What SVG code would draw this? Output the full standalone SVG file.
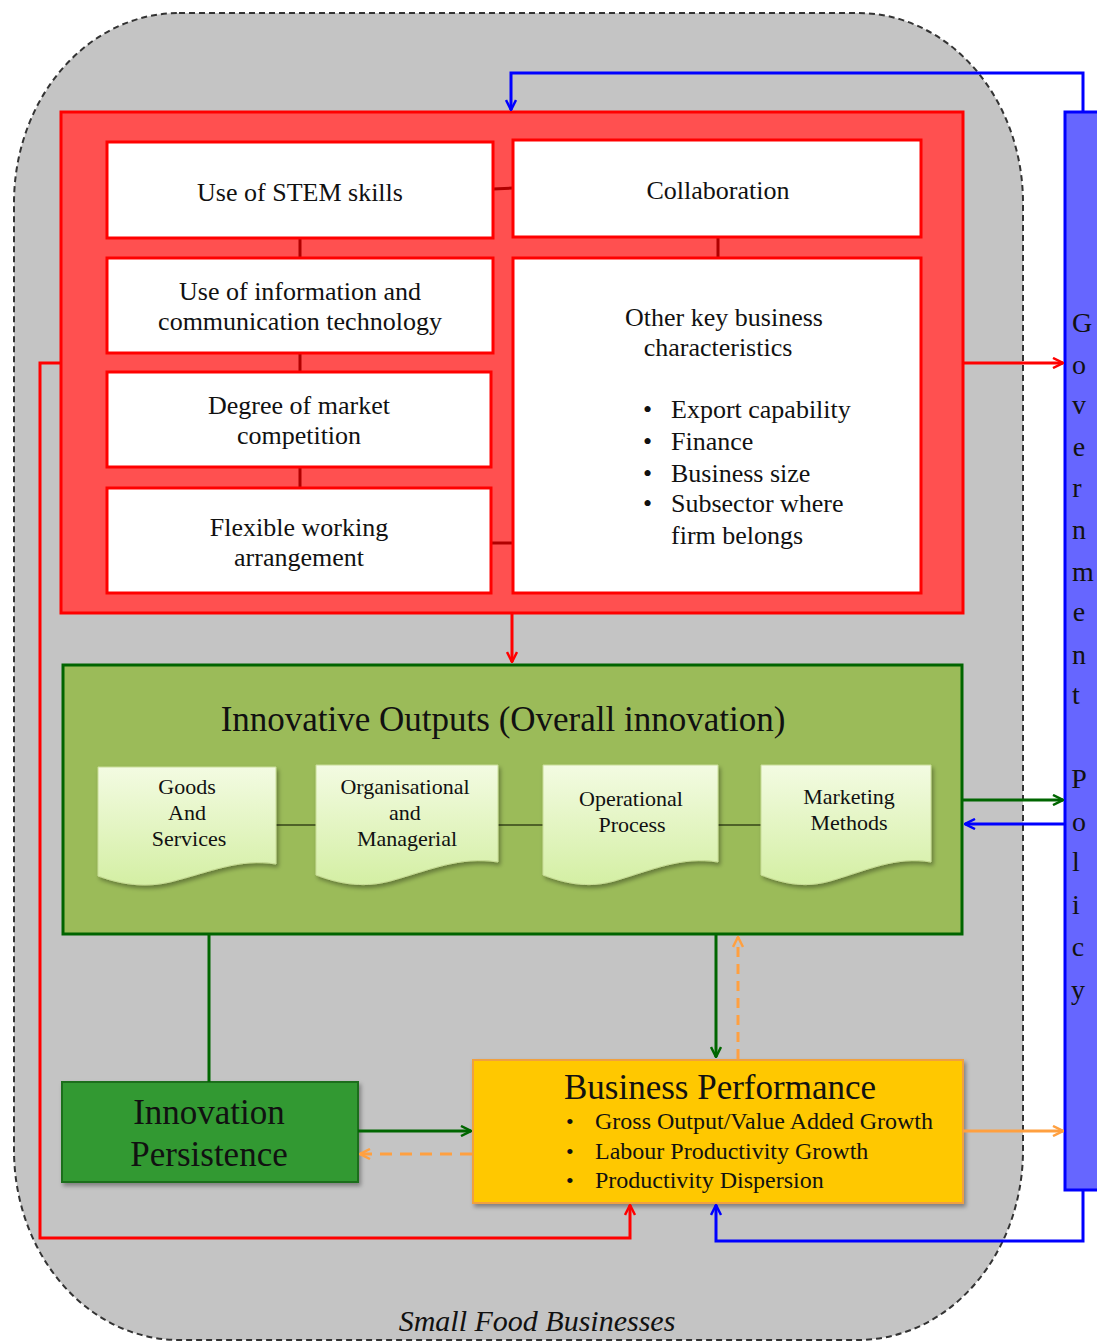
<svg xmlns="http://www.w3.org/2000/svg" width="1097" height="1343" viewBox="0 0 1097 1343" font-family="'Liberation Serif', 'Times New Roman', serif">
<style>
text{font-family:"Liberation Serif","Times New Roman",serif;fill:#111}
.wb{fill:#fff;stroke:#ff0000;stroke-width:3}
.t22{font-size:26px;text-anchor:middle}
.t23{font-size:26px}
.doc{fill:url(#docg);stroke:#c8dc98;stroke-width:1;filter:url(#sh)}
.dt{font-size:22px;text-anchor:middle}
.gv{font-size:28px;text-anchor:middle}
.bp{font-size:24px}
</style>
<defs>
<linearGradient id="docg" x1="0" y1="0" x2="0" y2="1">
<stop offset="0" stop-color="#f3fbe2"/>
<stop offset="1" stop-color="#d4efa4"/>
</linearGradient>
<filter id="sh" x="-10%" y="-10%" width="130%" height="130%">
<feDropShadow dx="2" dy="3" stdDeviation="2" flood-color="#000" flood-opacity="0.35"/>
</filter>
<marker id="ar" viewBox="0 0 12 12" refX="11" refY="6" markerWidth="12" markerHeight="12" markerUnits="userSpaceOnUse" orient="auto"><polyline points="1,1 11,6 1,11" fill="none" stroke="#ff0000" stroke-width="2.5"/></marker>
<marker id="ab" viewBox="0 0 12 12" refX="11" refY="6" markerWidth="12" markerHeight="12" markerUnits="userSpaceOnUse" orient="auto"><polyline points="1,1 11,6 1,11" fill="none" stroke="#0000ff" stroke-width="2.5"/></marker>
<marker id="ag" viewBox="0 0 12 12" refX="11" refY="6" markerWidth="12" markerHeight="12" markerUnits="userSpaceOnUse" orient="auto"><polyline points="1,1 11,6 1,11" fill="none" stroke="#006600" stroke-width="2.5"/></marker>
<marker id="ao" viewBox="0 0 12 12" refX="11" refY="6" markerWidth="12" markerHeight="12" markerUnits="userSpaceOnUse" orient="auto"><polyline points="1,1 11,6 1,11" fill="none" stroke="#ffa040" stroke-width="2.5"/></marker>
</defs>
<rect width="1097" height="1343" fill="#fff"/>
<g id="container">
<rect x="14" y="13" width="1009" height="1327" rx="165" ry="190" fill="#c4c4c4" stroke="#333" stroke-width="2" stroke-dasharray="6,4"/>
<text x="537" y="1331" font-size="30" font-style="italic" text-anchor="middle">Small Food Businesses</text>
</g>
<g id="gov-policy">
<rect x="1065" y="112" width="40" height="1078" fill="#6666ff" stroke="#0000ff" stroke-width="3"/>
<text class="gv" x="1082" y="332">G</text>
<text class="gv" x="1079" y="374">o</text>
<text class="gv" x="1079" y="414">v</text>
<text class="gv" x="1079" y="456">e</text>
<text class="gv" x="1077" y="497">r</text>
<text class="gv" x="1079" y="539">n</text>
<text class="gv" x="1083" y="581">m</text>
<text class="gv" x="1079" y="621">e</text>
<text class="gv" x="1079" y="664">n</text>
<text class="gv" x="1076" y="704">t</text>
<text class="gv" x="1079" y="788">P</text>
<text class="gv" x="1079" y="831">o</text>
<text class="gv" x="1076" y="871">l</text>
<text class="gv" x="1076" y="914">i</text>
<text class="gv" x="1078" y="956">c</text>
<text class="gv" x="1078" y="999">y</text>
</g>
<g id="determinants">
<rect x="61" y="112" width="902" height="501" fill="#ff5050" stroke="#ff0000" stroke-width="3"/>
<g stroke="#b00000" stroke-width="3">
<line x1="493" y1="189" x2="513" y2="188"/>
<line x1="300" y1="238" x2="300" y2="258"/>
<line x1="300" y1="353" x2="300" y2="372"/>
<line x1="300" y1="467" x2="300" y2="488"/>
<line x1="718" y1="237" x2="718" y2="258"/>
<line x1="491" y1="543" x2="513" y2="543"/>
</g>
</g>
<g id="stem">
<rect class="wb" x="107" y="142" width="386" height="96"/>
<text class="t22" x="300" y="201">Use of STEM skills</text>
</g>
<g id="collab">
<rect class="wb" x="513" y="140" width="408" height="97"/>
<text class="t22" x="718" y="199">Collaboration</text>
</g>
<g id="ict">
<rect class="wb" x="107" y="258" width="386" height="95"/>
<text class="t22" x="300" y="300">Use of information and</text>
<text class="t22" x="300" y="330">communication technology</text>
</g>
<g id="competition">
<rect class="wb" x="107" y="372" width="384" height="95"/>
<text class="t22" x="299" y="414">Degree of market</text>
<text class="t22" x="299" y="444">competition</text>
</g>
<g id="flexible">
<rect class="wb" x="107" y="488" width="384" height="105"/>
<text class="t22" x="299" y="536">Flexible working</text>
<text class="t22" x="299" y="566">arrangement</text>
</g>
<g id="other">
<rect class="wb" x="513" y="258" width="408" height="335"/>
<text class="t22" x="724" y="326">Other key business</text>
<text class="t22" x="718" y="356">characteristics</text>
<g class="t23">
<text x="643" y="418">•</text><text x="671" y="418">Export capability</text>
<text x="643" y="450">•</text><text x="671" y="450">Finance</text>
<text x="643" y="482">•</text><text x="671" y="482">Business size</text>
<text x="643" y="512">•</text><text x="671" y="512">Subsector where</text>
<text x="671" y="544">firm belongs</text>
</g>
</g>
<g id="innovative-outputs">
<rect x="63" y="665" width="899" height="269" fill="#9bbb59" stroke="#006400" stroke-width="3"/>
<text x="503" y="731" font-size="35" text-anchor="middle">Innovative Outputs (Overall innovation)</text>
<g stroke="#4f6228" stroke-width="2">
<line x1="276" y1="825" x2="316" y2="825"/>
<line x1="498" y1="825" x2="543" y2="825"/>
<line x1="718" y1="825" x2="761" y2="825"/>
</g>
</g>
<g id="goods">
<path class="doc" d="M98,767 H276 V864 C240,858 210,872 170,882 C140,889 115,882 98,876 Z"/>
<text class="dt" x="187" y="794">Goods</text>
<text class="dt" x="187" y="820">And</text>
<text class="dt" x="189" y="846">Services</text>
</g>
<g id="organisational">
<path class="doc" d="M316,765 H498 V862 C460,856 430,870 390,881 C360,889 335,882 316,875 Z"/>
<text class="dt" x="405" y="794">Organisational</text>
<text class="dt" x="405" y="820">and</text>
<text class="dt" x="407" y="846">Managerial</text>
</g>
<g id="operational">
<path class="doc" d="M543,765 H718 V862 C682,856 652,870 614,881 C586,889 562,882 543,875 Z"/>
<text class="dt" x="631" y="806">Operational</text>
<text class="dt" x="632" y="832">Process</text>
</g>
<g id="marketing">
<path class="doc" d="M761,765 H931 V862 C896,856 868,870 830,881 C802,889 780,882 761,875 Z"/>
<text class="dt" x="849" y="804">Marketing</text>
<text class="dt" x="849" y="830">Methods</text>
</g>
<g id="persistence">
<rect x="62" y="1082" width="296" height="100" fill="#339933" stroke="#1a6e1a" stroke-width="2" filter="url(#sh)"/>
<text x="209" y="1124" font-size="35" text-anchor="middle">Innovation</text>
<text x="209" y="1166" font-size="35" text-anchor="middle">Persistence</text>
</g>
<g id="performance">
<rect x="473" y="1060" width="490" height="143" fill="#ffc800" stroke="#f0a040" stroke-width="2" filter="url(#sh)"/>
<text x="720" y="1099" font-size="35" text-anchor="middle">Business Performance</text>
<text x="566" y="1129" font-size="22">•</text><text class="bp" x="595" y="1129">Gross Output/Value Added Growth</text>
<text x="566" y="1159" font-size="22">•</text><text class="bp" x="595" y="1159">Labour Productivity Growth</text>
<text x="566" y="1188" font-size="22">•</text><text class="bp" x="595" y="1188">Productivity Dispersion</text>
</g>
<g id="connectors" fill="none" stroke-width="3">
<polyline points="1083,112 1083,73 511,73 511,110" stroke="#0000ff" marker-end="url(#ab)"/>
<line x1="963" y1="363" x2="1063" y2="363" stroke="#ff0000" marker-end="url(#ar)"/>
<polyline points="61,363 40,363 40,1238 630,1238 630,1205" stroke="#ff0000" marker-end="url(#ar)"/>
<line x1="512" y1="613" x2="512" y2="662" stroke="#ff0000" marker-end="url(#ar)"/>
<line x1="963" y1="800" x2="1063" y2="800" stroke="#006600" marker-end="url(#ag)"/>
<line x1="1065" y1="824" x2="965" y2="824" stroke="#0000ff" marker-end="url(#ab)"/>
<line x1="209" y1="934" x2="209" y2="1082" stroke="#006600"/>
<line x1="716" y1="934" x2="716" y2="1057" stroke="#006600" marker-end="url(#ag)"/>
<line x1="738" y1="1059" x2="738" y2="937" stroke="#ffa040" stroke-dasharray="10,7" marker-end="url(#ao)"/>
<line x1="358" y1="1131" x2="471" y2="1131" stroke="#006600" marker-end="url(#ag)"/>
<line x1="472" y1="1154" x2="360" y2="1154" stroke="#ffa040" stroke-dasharray="12,8" marker-end="url(#ao)"/>
<line x1="963" y1="1131" x2="1063" y2="1131" stroke="#ffa040" marker-end="url(#ao)"/>
<polyline points="1083,1190 1083,1241 716,1241 716,1205" stroke="#0000ff" marker-end="url(#ab)"/>
</g>
</svg>
